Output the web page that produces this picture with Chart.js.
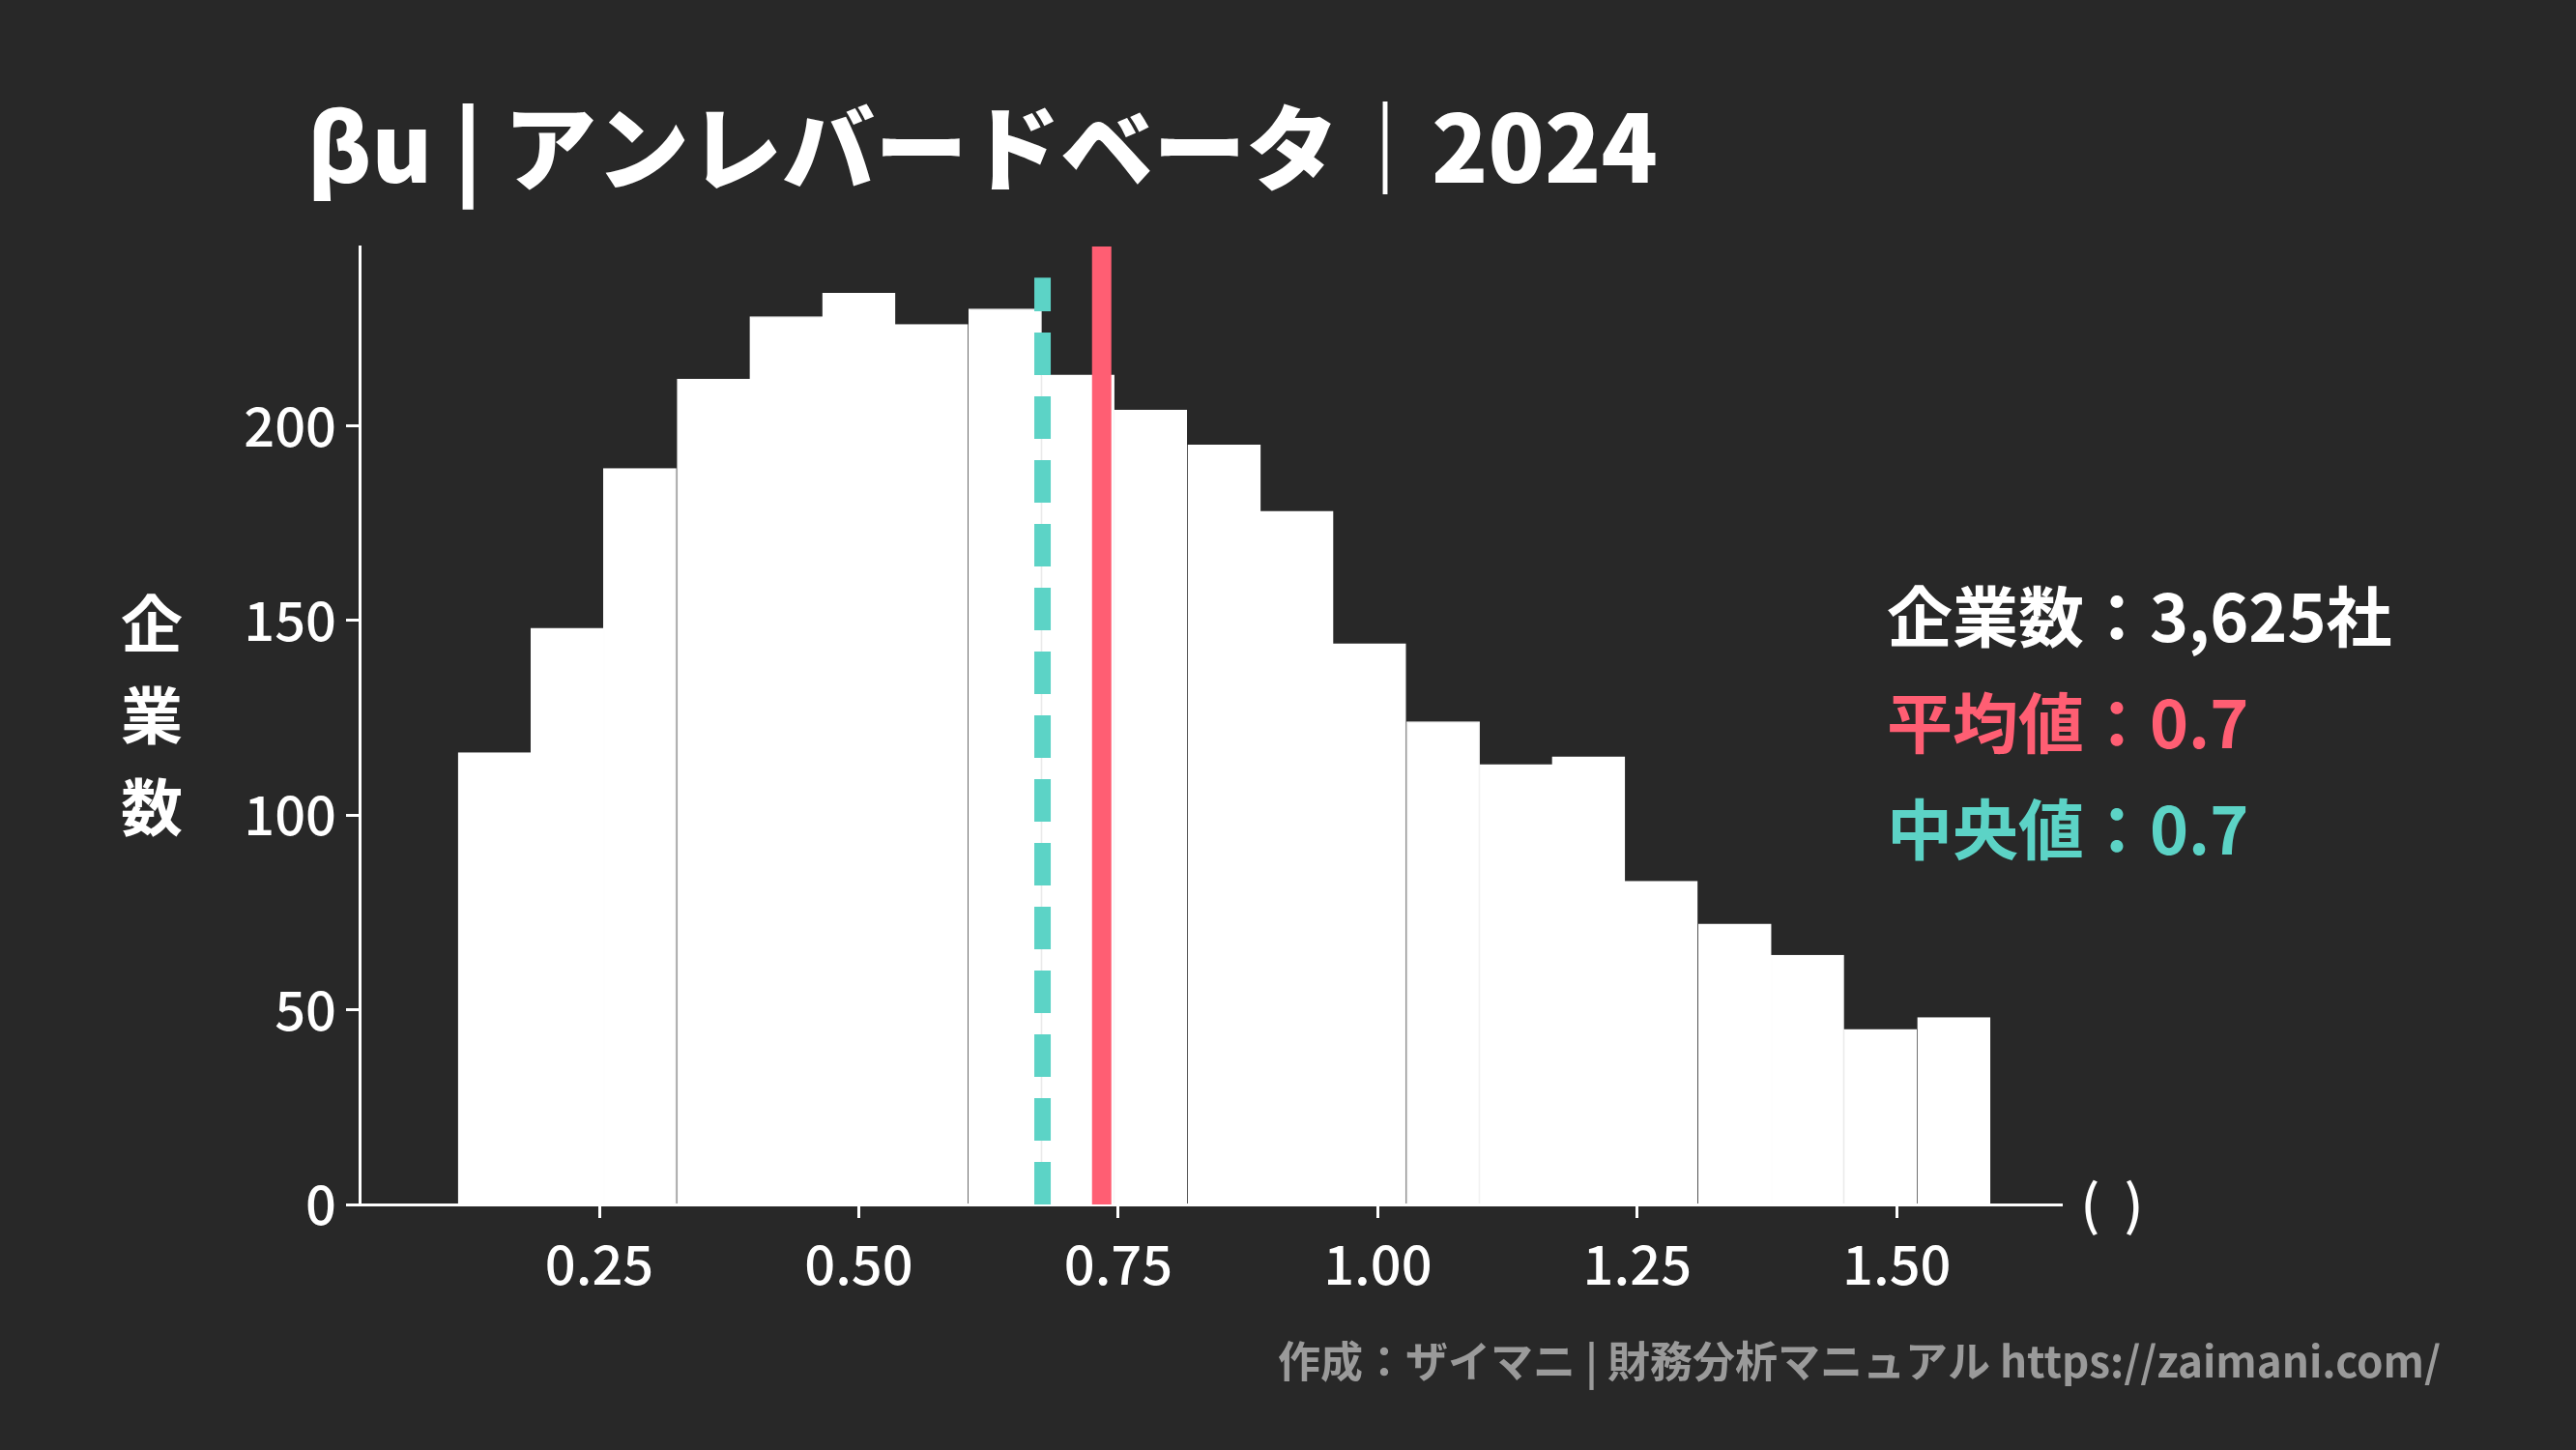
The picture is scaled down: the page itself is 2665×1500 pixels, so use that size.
<!DOCTYPE html>
<html>
<head>
<meta charset="utf-8">
<script src="https://cdn.jsdelivr.net/npm/chart.js@4"></script>
<style>
  html, body { margin: 0; padding: 0; background: #282828; }
</style>
</head>
<body>
<canvas id="chart1" width="2665" height="1500"></canvas>
<script>
// bin centres (unlevered beta) and company counts
const binCenters = [0.149, 0.219, 0.289, 0.360, 0.430, 0.500, 0.570, 0.641, 0.711, 0.781,
  0.852, 0.922, 0.992, 1.063, 1.133, 1.203, 1.273, 1.344, 1.414, 1.484, 1.555];
const counts = [116, 148, 189, 212, 228, 234, 226, 230, 213, 204,
  195, 178, 144, 124, 113, 115, 83, 72, 64, 45, 48];
const xTicks = [0.25, 0.5, 0.75, 1.0, 1.25, 1.5];
const yTicks = [0, 50, 100, 150, 200];
const meanValue = 0.734;
const medianValue = 0.677;
const infoLines = ['企業数：3,625社', '平均値：0.7', '中央値：0.7'];

const RED = '#ff5e73';
const TEAL = '#5cd3c6';
const FONT = '"Noto Sans CJK JP", "Noto Sans", sans-serif';

const overlay = {
  id: 'overlay',
  afterDatasetsDraw(chart) {
    const { ctx, scales: { x, y } } = chart;
    ctx.save();
    // median (dashed) and mean lines
    ctx.lineWidth = 17;
    ctx.strokeStyle = TEAL;
    ctx.setLineDash([44, 22]);
    ctx.beginPath();
    ctx.moveTo(x.getPixelForValue(medianValue), y.getPixelForValue(0));
    ctx.lineTo(x.getPixelForValue(medianValue), y.getPixelForValue(238));
    ctx.stroke();
    ctx.setLineDash([]);
    ctx.strokeStyle = RED;
    ctx.lineWidth = 20;
    ctx.beginPath();
    ctx.moveTo(x.getPixelForValue(meanValue), y.getPixelForValue(0));
    ctx.lineTo(x.getPixelForValue(meanValue), y.getPixelForValue(246));
    ctx.stroke();

    // title
    ctx.fillStyle = '#fff';
    ctx.textBaseline = 'middle';
    ctx.font = '900 96px ' + FONT;
    ctx.fillText('βu | アンレバードベータ｜2024', 318, 153);

    // y axis title, stacked
    ctx.font = 'bold 64px ' + FONT;
    ctx.textAlign = 'center';
    ['企', '業', '数'].forEach((ch, i) => ctx.fillText(ch, 157, 645 + i * 95));

    // x axis unit
    ctx.font = '500 56px ' + FONT;
    ctx.fillText('(  )', 2185, y.getPixelForValue(0));

    // info block
    ctx.textAlign = 'left';
    ctx.font = 'bold 68px ' + FONT;
    [ '#fff', RED, TEAL ].forEach((c, i) => {
      ctx.fillStyle = c;
      ctx.fillText(infoLines[i], 1952, 638 + i * 110);
    });

    // footer
    ctx.textAlign = 'right';
    ctx.fillStyle = '#9a9a9a';
    ctx.font = 'bold 44px ' + FONT;
    ctx.fillText('作成：ザイマニ | 財務分析マニュアル https://zaimani.com/', 2525, 1408);
    ctx.restore();
  }
};

new Chart(document.getElementById('chart1').getContext('2d'), {
  type: 'bar',
  data: {
    datasets: [{
      data: binCenters.map((c, i) => ({ x: c, y: counts[i] })),
      backgroundColor: '#ffffff',
      borderColor: '#ffffff',
      borderWidth: 1,
      barPercentage: 1,
      categoryPercentage: 1
    }]
  },
  options: {
    responsive: false,
    animation: false,
    devicePixelRatio: 1,
    layout: { padding: { top: 255, right: 532, left: 0, bottom: 0 } },
    plugins: { legend: { display: false }, tooltip: { enabled: false } },
    scales: {
      x: {
        type: 'linear',
        offset: false,
        min: 0.019,
        max: 1.659,
        afterBuildTicks: s => { s.ticks = xTicks.map(v => ({ value: v })); },
        afterFit: s => { s.height = 254; },
        grid: { display: true, offset: false, drawOnChartArea: false, drawTicks: true, tickLength: 14, tickColor: '#fff', tickWidth: 3 },
        border: { color: '#fff', width: 3 },
        ticks: { color: '#fff', font: { family: FONT, size: 56, weight: '500' }, padding: 14,
          callback: v => v.toFixed(2) }
      },
      y: {
        min: 0,
        max: 246,
        afterBuildTicks: s => { s.ticks = yTicks.map(v => ({ value: v })); },
        afterFit: s => { s.width = 372; },
        grid: { display: true, drawOnChartArea: false, drawTicks: true, tickLength: 14, tickColor: '#fff', tickWidth: 3 },
        border: { color: '#fff', width: 3 },
        ticks: { color: '#fff', font: { family: FONT, size: 56, weight: '500' }, padding: 10 }
      }
    }
  },
  plugins: [overlay]
});
</script>
</body>
</html>
